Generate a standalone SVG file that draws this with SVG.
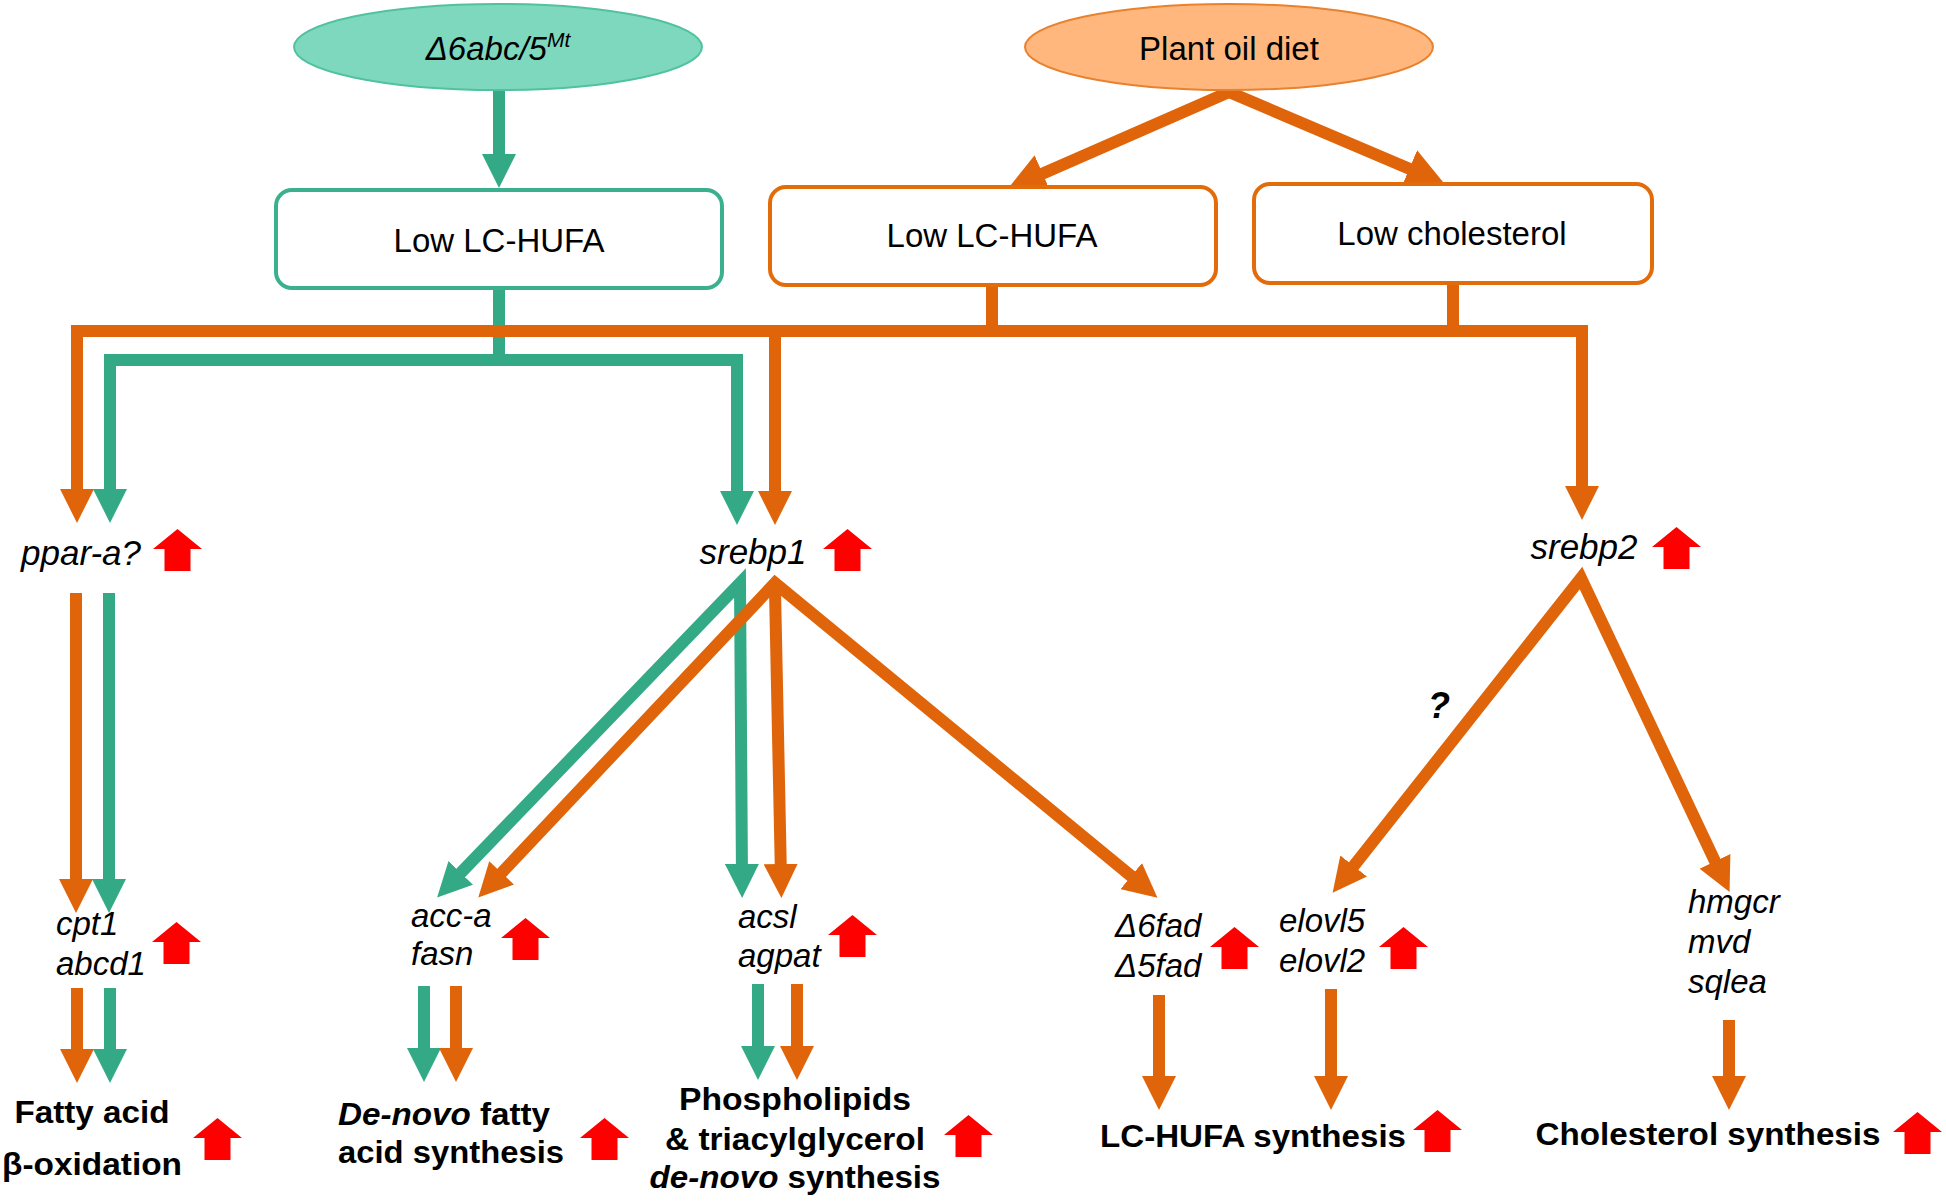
<svg xmlns="http://www.w3.org/2000/svg" xmlns:xlink="http://www.w3.org/1999/xlink" width="1946" height="1201" viewBox="0 0 1946 1201">
<style>
.g{stroke:#33aa85;stroke-width:12;fill:none;stroke-linejoin:miter;stroke-miterlimit:6}
.o{stroke:#e0650a;stroke-width:12;fill:none;stroke-linejoin:miter;stroke-miterlimit:6}
.gm{marker-end:url(#ahg)}
.om{marker-end:url(#aho)}
.gm2{marker-start:url(#ahg);marker-end:url(#ahg)}
.om2{marker-start:url(#aho);marker-end:url(#aho)}
text{font-family:"Liberation Sans",Arial,sans-serif;fill:#000}
.box{font-size:33px;text-anchor:middle}
.gene{font-size:35px;font-style:italic;text-anchor:middle}
.gene3{font-size:33px;font-style:italic}
.lab{font-size:32px;font-weight:bold;text-anchor:middle}
</style>
<defs>
<marker id="ahg" viewBox="0 0 34 34" refX="14" refY="17" markerWidth="34" markerHeight="34" markerUnits="userSpaceOnUse" orient="auto-start-reverse"><path d="M0,0L34,17L0,34z" fill="#33aa85"/></marker>
<marker id="aho" viewBox="0 0 34 34" refX="14" refY="17" markerWidth="34" markerHeight="34" markerUnits="userSpaceOnUse" orient="auto-start-reverse"><path d="M0,0L34,17L0,34z" fill="#e0650a"/></marker>
<marker id="aho2" viewBox="0 0 38 40" refX="16" refY="20" markerWidth="38" markerHeight="40" markerUnits="userSpaceOnUse" orient="auto-start-reverse"><path d="M0,0L38,20L0,40z" fill="#e0650a"/></marker>
<path id="up" d="M24.5,0L49,20L37.5,20L37.5,42L11.5,42L11.5,20L0,20Z" fill="#ff0000"/>
</defs>

<g id="connectors">
  <path class="g gm" d="M499,91L499,168"/>
  <path class="g" d="M499,289L499,360"/>
  <path class="g gm2" d="M110,503L110,360L737,360L737,505"/>
  <path class="g gm" d="M109,593L109,893"/>
  <path class="g gm2" d="M451,883L740,583L742,878"/>
  <path class="g gm" d="M110,988L110,1063"/>
  <path class="g gm" d="M424,986L424,1062"/>
  <path class="g gm" d="M758,984L758,1060"/>

  <path class="o" style="marker-start:url(#aho2);marker-end:url(#aho2)" d="M1028,180L1229,92L1424,175"/>
  <path class="o" d="M992,286L992,331"/>
  <path class="o" d="M1453,284L1453,331"/>
  <path class="o om2" d="M77,503L77,331L1582,331L1582,500"/>
  <path class="o om" d="M775,331L775,505"/>
  <path class="o om" d="M76,593L76,893"/>
  <path class="o om2" d="M492,883L775,583L1142,885"/>
  <path class="o om" d="M775,590L781,878"/>
  <path class="o om2" d="M1345,877L1581,578L1721,874"/>
  <path class="o om" d="M77,988L77,1063"/>
  <path class="o om" d="M456,986L456,1062"/>
  <path class="o om" d="M797,984L797,1060"/>
  <path class="o om" d="M1159,995L1159,1090"/>
  <path class="o om" d="M1331,989L1331,1090"/>
  <path class="o om" d="M1729,1020L1729,1090"/>
  <text x="1439" y="718" style="font-size:36px;font-weight:bold;font-style:italic" text-anchor="middle">?</text>
</g>

<g id="mutant">
  <ellipse cx="498" cy="47" rx="204" ry="43" fill="#7dd8bd" stroke="#52c1a0" stroke-width="2"/>
  <text x="498" y="60" style="font-size:33px;font-style:italic" text-anchor="middle">Δ6abc/5<tspan dy="-13" style="font-size:21px">Mt</tspan></text>
</g>
<g id="plant-oil">
  <ellipse cx="1229" cy="47" rx="204" ry="43" fill="#ffb77e" stroke="#e8822f" stroke-width="2"/>
  <text class="box" x="1229" y="60">Plant oil diet</text>
</g>
<g id="low-hufa-green">
  <rect x="276" y="190" width="446" height="98" rx="16" fill="#fff" stroke="#3bb08f" stroke-width="4"/>
  <text class="box" x="499" y="252">Low LC-HUFA</text>
</g>
<g id="low-hufa-orange">
  <rect x="770" y="187" width="446" height="98" rx="16" fill="#fff" stroke="#e36c0a" stroke-width="4"/>
  <text class="box" x="992" y="247">Low LC-HUFA</text>
</g>
<g id="low-chol">
  <rect x="1254" y="184" width="398" height="99" rx="16" fill="#fff" stroke="#e36c0a" stroke-width="4"/>
  <text class="box" x="1452" y="245">Low cholesterol</text>
</g>

<g id="ppar">
  <text class="gene" x="81" y="565">ppar-a?</text>
  <use xlink:href="#up" href="#up" x="153" y="529"/>
</g>
<g id="srebp1">
  <text class="gene" x="753" y="564">srebp1</text>
  <use xlink:href="#up" href="#up" x="823" y="529"/>
</g>
<g id="srebp2">
  <text class="gene" x="1584" y="559">srebp2</text>
  <use xlink:href="#up" href="#up" x="1652" y="527"/>
</g>

<g id="cpt1">
  <text class="gene3" x="56" y="935">cpt1</text>
  <text class="gene3" x="56" y="975">abcd1</text>
  <use xlink:href="#up" href="#up" x="152" y="922"/>
</g>
<g id="acca">
  <text class="gene3" x="411" y="927">acc-a</text>
  <text class="gene3" x="411" y="965">fasn</text>
  <use xlink:href="#up" href="#up" x="501" y="918"/>
</g>
<g id="acsl">
  <text class="gene3" x="738" y="928">acsl</text>
  <text class="gene3" x="738" y="967">agpat</text>
  <use xlink:href="#up" href="#up" x="828" y="915"/>
</g>
<g id="fad">
  <text class="gene3" x="1115" y="937">Δ6fad</text>
  <text class="gene3" x="1115" y="977">Δ5fad</text>
  <use xlink:href="#up" href="#up" x="1210" y="927"/>
</g>
<g id="elovl">
  <text class="gene3" x="1279" y="932">elovl5</text>
  <text class="gene3" x="1279" y="972">elovl2</text>
  <use xlink:href="#up" href="#up" x="1379" y="927"/>
</g>
<g id="hmgcr">
  <text class="gene3" x="1688" y="913">hmgcr</text>
  <text class="gene3" x="1688" y="953">mvd</text>
  <text class="gene3" x="1688" y="993">sqlea</text>
</g>

<g id="fa-oxidation">
  <text class="lab" x="92" y="1123" textLength="155" lengthAdjust="spacingAndGlyphs">Fatty acid</text>
  <text class="lab" x="92" y="1175" textLength="180" lengthAdjust="spacingAndGlyphs">β-oxidation</text>
  <use xlink:href="#up" href="#up" x="193" y="1118"/>
</g>
<g id="denovo-fa">
  <text class="lab" x="444" y="1125" textLength="212" lengthAdjust="spacingAndGlyphs"><tspan font-style="italic">De-novo</tspan> fatty</text>
  <text class="lab" x="451" y="1163" textLength="226" lengthAdjust="spacingAndGlyphs">acid synthesis</text>
  <use xlink:href="#up" href="#up" x="580" y="1118"/>
</g>
<g id="phospholipids">
  <text class="lab" x="795" y="1110" textLength="232" lengthAdjust="spacingAndGlyphs">Phospholipids</text>
  <text class="lab" x="795" y="1150" textLength="260" lengthAdjust="spacingAndGlyphs">&amp; triacylglycerol</text>
  <text class="lab" x="795" y="1188" textLength="291" lengthAdjust="spacingAndGlyphs"><tspan font-style="italic">de-novo</tspan> synthesis</text>
  <use xlink:href="#up" href="#up" x="944" y="1115"/>
</g>
<g id="hufa-synth">
  <text class="lab" x="1253" y="1147" textLength="306" lengthAdjust="spacingAndGlyphs">LC-HUFA synthesis</text>
  <use xlink:href="#up" href="#up" x="1413" y="1110"/>
</g>
<g id="chol-synth">
  <text class="lab" x="1708" y="1145" textLength="345" lengthAdjust="spacingAndGlyphs">Cholesterol synthesis</text>
  <use xlink:href="#up" href="#up" x="1893" y="1112"/>
</g>
</svg>
